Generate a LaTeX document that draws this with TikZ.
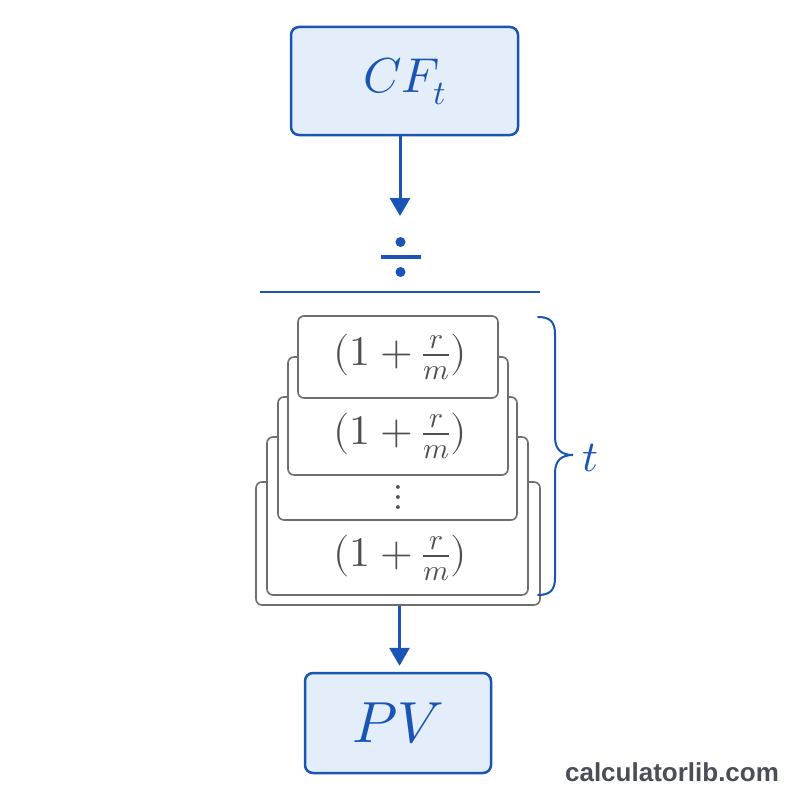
\documentclass[tikz,border=0pt]{standalone}
\usepackage{fontspec}
\usepackage{unicode-math}
\setmathfont{Latin Modern Math}
\newfontfamily\wmfont{Liberation Sans}
\usetikzlibrary{arrows.meta}
\definecolor{bblue}{HTML}{1A55B5}
\definecolor{bfill}{HTML}{E4EEFB}
\definecolor{sgray}{HTML}{6E6E6E}
\definecolor{tgray}{HTML}{4F4F4F}
\definecolor{wgray}{HTML}{4A4E57}
\tikzset{
  bluebox/.style={draw=bblue, fill=bfill, line width=2.5pt, rounded corners=8pt, inner sep=0pt, text=bblue},
  stackbox/.style={draw=sgray, fill=white, line width=1.6pt, rounded corners=6pt, inner sep=0pt},
  stacktext/.style={text=tgray, inner sep=0pt, font=\fontsize{42}{48}\selectfont},
  flowarrow/.style={draw=bblue, line width=3pt, -{Triangle[length=18pt,width=20pt]}},
}
\begin{document}
\begin{tikzpicture}[x=1pt,y=-1pt]
\useasboundingbox[fill=white] (0,0) rectangle (800,800);
% top box
\node[bluebox, minimum width=227pt, minimum height=108pt, font=\fontsize{49}{56}\selectfont] (cf) at (404.5,81) {$CF_t$};
% divide sign
\coordinate (divtop) at (400,216);
\draw[flowarrow] (cf.south -| divtop) -- (divtop);
\node[circle, fill=bblue, inner sep=0pt, minimum size=10pt] (dotup) at (400.5,242) {};
\node[rectangle, fill=bblue, inner sep=0pt, minimum width=40pt, minimum height=4.5pt] (bar) at (400.5,257) {};
\node[circle, fill=bblue, inner sep=0pt, minimum size=10pt] (dotdn) at (400.5,272) {};
\coordinate (lineL) at (260,292);
\coordinate (lineR) at (540,292);
\draw[bblue, line width=2pt] (lineL) -- (lineR);
% stack (back to front)
\node[stackbox, minimum width=284pt, minimum height=123pt] (e) at (398,543.5) {};
\node[stackbox, minimum width=261pt, minimum height=158pt] (d) at (397.5,516) {};
\node[stackbox, minimum width=239pt, minimum height=123pt] (c) at (397.5,458.5) {};
\node[stackbox, minimum width=220pt, minimum height=118pt] (b) at (398,416) {};
\node[stackbox, minimum width=200pt, minimum height=82pt] (a) at (398,357) {};
\node[stacktext] (ta) at (400,357) {$(1+\frac{r}{m})$};
\node[stacktext] (tb) at (400,436) {$(1+\frac{r}{m})$};
\node[stacktext, font=\fontsize{36}{40}\selectfont] (tc) at (398,497) {$\vdots$};
\node[stacktext] (td) at (400,558) {$(1+\frac{r}{m})$};
% brace
\coordinate (brtop) at (538,317);
\coordinate (brtip) at (573,455);
\coordinate (brbot) at (538,595);
\draw[bblue, line width=2pt, line cap=round]
  (brtop) .. controls (550,317) and (555,322) .. (555,334)
  -- (555,437) .. controls (555,450) and (562,455) .. (brtip)
  .. controls (562,455) and (555,460) .. (555,473)
  -- (555,578) .. controls (555,590) and (550,595) .. (brbot);
\node[text=bblue, inner sep=0pt, font=\fontsize{44}{50}\selectfont, anchor=west] (tl) at (582,458) {$t$};
% bottom arrow and box
\node[bluebox, minimum width=186pt, minimum height=100pt, font=\fontsize{58}{66}\selectfont] (pv) at (398,723) {$PV$};
\draw[flowarrow, shorten >=6pt] (e.south -| 399.5,0) -- (pv.north -| 399.5,0);
% watermark
\node[text=wgray, inner sep=0pt, font=\wmfont\bfseries\fontsize{26}{30}\selectfont] (wm) at (672,772) {calculatorlib.com};
\end{tikzpicture}
\end{document}
